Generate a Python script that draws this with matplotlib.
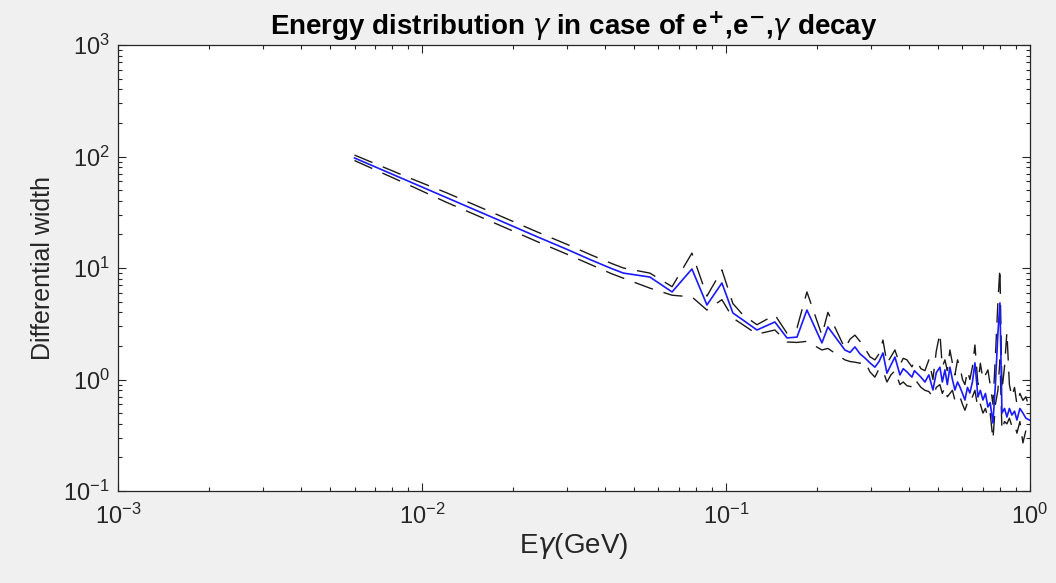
import numpy as np
import matplotlib
matplotlib.use('Agg')
import matplotlib.pyplot as plt
from matplotlib.ticker import LogLocator

# photon energy grid (GeV) and differential width: central, upper and lower bounds
e_gamma = [0.006, 0.009, 0.012, 0.018, 0.024, 0.030, 0.036, 0.042, 0.046,
           0.0562, 0.0665, 0.0773, 0.0866, 0.097, 0.1054, 0.1137, 0.1265,
           0.1449, 0.1588, 0.1713, 0.1847, 0.2069, 0.2165,
           0.2462, 0.2560, 0.2657, 0.2760, 0.2866, 0.2977, 0.3091, 0.3190,
           0.3285, 0.3386, 0.3490, 0.3597, 0.3736, 0.3830, 0.3939, 0.4091,
           0.4170, 0.4249, 0.4380, 0.4515, 0.4650, 0.4797, 0.4920, 0.5057,
           0.5150, 0.5253, 0.5350, 0.5455, 0.5560, 0.5666, 0.5780, 0.5886,
           0.6000, 0.6113, 0.6230, 0.6346, 0.6470, 0.6594, 0.6744, 0.6870,
           0.7005, 0.7140, 0.7274, 0.7400, 0.7557, 0.7700, 0.7847, 0.7968,
           0.8091, 0.8250, 0.8401, 0.8560, 0.8726, 0.8900, 0.9062, 0.9270,
           0.9484, 0.9700, 0.996]
width_mid = [97, 60.3, 43.0, 26.7, 19.0, 14.7, 11.8, 9.9, 9.0,
             8.3, 6.1, 9.8, 4.66, 7.34, 3.95, 3.42, 2.78,
             3.28, 2.36, 2.40, 4.20, 2.13, 2.96,
             1.84, 1.75, 1.96, 1.70, 1.56, 1.41, 1.29, 1.45,
             1.73, 1.14, 1.35, 1.59, 1.10, 1.25, 1.17, 1.05,
             1.20, 1.14, 1.05, 0.95, 1.10, 0.805, 1.15, 1.29,
             0.95, 1.22, 0.90, 1.29, 1.00, 0.805, 0.95, 0.857,
             0.75, 0.655, 0.85, 0.757, 0.95, 1.41, 0.697, 0.80,
             0.655, 0.75, 0.567, 0.62, 0.407, 0.90, 2.61, 4.86,
             0.50, 0.55, 0.461, 0.55, 0.48, 0.52, 0.433, 0.55,
             0.50, 0.45, 0.433]
width_hi = [103, 65, 47.5, 29.5, 21.0, 16.3, 13.1, 11.0, 10.0,
            9.0, 6.8, 13.6, 5.6, 9.6, 4.8, 3.8, 3.1,
            3.8, 2.6, 2.9, 6.1, 2.5, 4.0,
            1.9, 2.3, 2.5, 2.2, 1.9, 1.6, 1.5, 1.7,
            2.26, 1.4, 1.6, 1.84, 1.35, 1.55, 1.5, 1.3,
            1.45, 1.45, 1.25, 1.2, 1.5, 1.0, 1.8, 2.6,
            1.3, 1.5, 1.2, 1.84, 1.4, 1.1, 1.5, 1.3,
            1.0, 0.9, 1.2, 1.0, 1.3, 2.04, 0.9, 1.4,
            1.0, 1.1, 1.22, 0.9, 0.6, 1.6, 5.0, 10.0,
            0.8, 1.3, 2.66, 0.9, 0.7, 0.85, 0.6, 0.75,
            0.65, 0.7, 0.55]
width_lo = [92, 56, 39, 24.2, 17.2, 13.3, 10.7, 8.9, 8.1,
            6.6, 5.7, 5.5, 4.2, 5.2, 3.56, 3.1, 2.55,
            2.78, 2.17, 2.15, 2.2, 1.84, 1.9,
            1.5, 1.45, 1.43, 1.40, 1.45, 1.17, 1.05, 1.25,
            1.2, 0.95, 1.1, 1.2, 0.9, 0.95, 0.88, 0.86,
            1.0, 0.95, 0.85, 0.8, 0.78, 0.7, 0.85, 0.9,
            0.75, 0.85, 0.7, 0.75, 0.8, 0.65, 0.72, 0.7,
            0.6, 0.53, 0.62, 0.6, 0.7, 0.8, 0.55, 0.6,
            0.5, 0.55, 0.45, 0.5, 0.29, 0.6, 0.8, 1.5,
            0.35, 0.42, 0.4, 0.45, 0.38, 0.4, 0.33, 0.42,
            0.27, 0.35, 0.35]

plt.rcParams['font.family'] = ['Liberation Sans', 'DejaVu Sans']
plt.rcParams['lines.scale_dashes'] = False
grey = '#262626'

fig = plt.figure(figsize=(10.56, 5.83), dpi=100, facecolor='#f0f0f0')
ax = fig.add_axes([0.1117, 0.1578, 0.8636, 0.765])
ax.set_facecolor('white')

ax.loglog(e_gamma, width_hi, color='0.1', lw=1.0, dashes=(14, 8))
ax.loglog(e_gamma, width_lo, color='0.1', lw=1.0, dashes=(14, 8))
ax.loglog(e_gamma, width_mid, color='#1a1aff', lw=1.2)

ax.set_xlim(1e-3, 1)
ax.set_ylim(1e-1, 1e3)
ax.xaxis.set_major_locator(LogLocator(base=10, numticks=10))
ax.yaxis.set_major_locator(LogLocator(base=10, numticks=10))
ax.tick_params(which='both', direction='in', top=True, right=True, colors=grey,
               labelsize=17, width=0.8)
ax.tick_params(which='major', length=6)
ax.tick_params(which='minor', length=3)
ax.tick_params(axis='x', pad=9)
ax.tick_params(axis='y', pad=6)
for s in ax.spines.values():
    s.set_color(grey)
    s.set_linewidth(0.9)

ax.set_xlabel(r'E$\gamma$(GeV)', fontsize=20, color=grey, labelpad=2)
ax.set_ylabel('Differential width', fontsize=18, color=grey, labelpad=6)
ax.set_title(r'Energy distribution $\gamma$ in case of e$^{\mathbf{+}}$,e$^{\mathbf{-}}$,$\gamma$ decay',
             fontsize=20, fontweight='bold', color='black', pad=7)

plt.savefig('out.png', dpi=100, facecolor=fig.get_facecolor())
plt.close()
